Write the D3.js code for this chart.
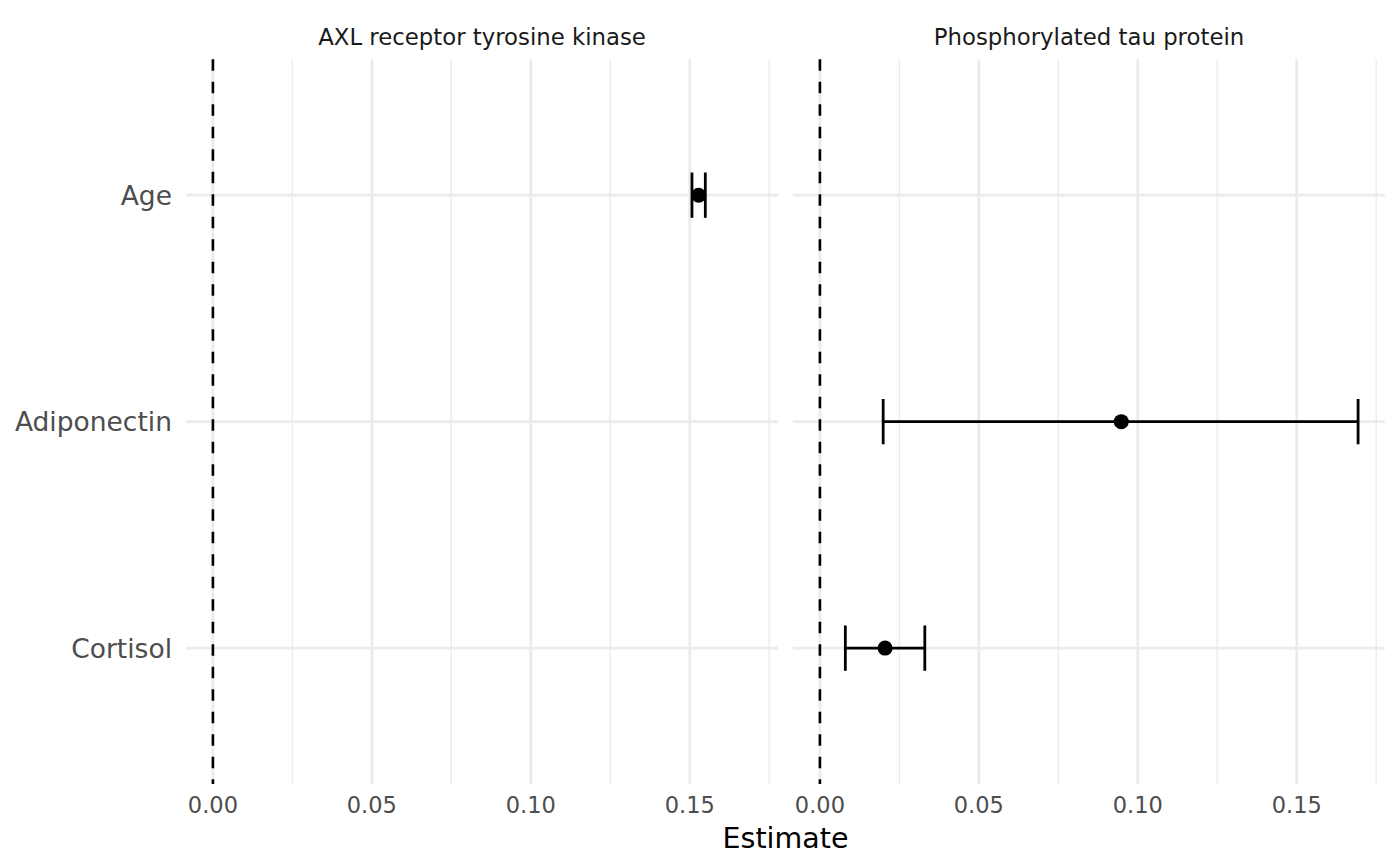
<!DOCTYPE html>
<html>
<head>
<meta charset="utf-8">
<script src="https://cdn.jsdelivr.net/npm/d3@7"></script>
<style>
  body { margin: 0; background: #fff; }
  svg { display: block; font-family: "DejaVu Sans", sans-serif; }
</style>
</head>
<body>
<script>
// facets, terms and estimates
var panels = ["AXL receptor tyrosine kinase", "Phosphorylated tau protein"];
var terms = ["Age", "Adiponectin", "Cortisol"];
var rowPanel = ["AXL receptor tyrosine kinase", "Phosphorylated tau protein", "Phosphorylated tau protein"];
var estimates = [0.1528, 0.0948, 0.0205];
var lower = [0.1507, 0.0199, 0.0080];
var upper = [0.1549, 0.1693, 0.0330];
var xTicks = [0, 0.05, 0.10, 0.15];
var xMinor = [0.025, 0.075, 0.125, 0.175];

var width = 1400, height = 866;
var panelTop = 59.3, panelBottom = 784;
var panelRanges = [[186, 778], [793, 1385]];

var rows = terms.map((t, i) => ({term: t, panel: rowPanel[i], est: estimates[i], lo: lower[i], hi: upper[i]}));

// shared x scale with 5% expansion like ggplot
var ext = d3.extent([0].concat(lower, upper));
var pad = (ext[1] - ext[0]) * 0.05;
var xDomain = [ext[0] - pad, ext[1] + pad];

var y = d3.scalePoint()
    .domain(terms)
    .range([panelTop, panelBottom])
    .padding(0.6);

var svg = d3.select("body").append("svg")
    .attr("width", width)
    .attr("height", height);

panels.forEach((p, pi) => {
  var x = d3.scaleLinear().domain(xDomain).range(panelRanges[pi]);
  var g = svg.append("g");

  // minor grid
  g.selectAll("line.minor")
    .data(xMinor.filter(v => v >= xDomain[0] && v <= xDomain[1]))
    .enter().append("line")
      .attr("x1", d => x(d)).attr("x2", d => x(d))
      .attr("y1", panelTop).attr("y2", panelBottom)
      .attr("stroke", "#ebebeb")
      .attr("stroke-width", 1.4);

  // major grid
  g.selectAll("line.major")
    .data(xTicks)
    .enter().append("line")
      .attr("x1", d => x(d)).attr("x2", d => x(d))
      .attr("y1", panelTop).attr("y2", panelBottom)
      .attr("stroke", "#ebebeb")
      .attr("stroke-width", 2.8);

  g.selectAll("line.hgrid")
    .data(terms)
    .enter().append("line")
      .attr("x1", panelRanges[pi][0]).attr("x2", panelRanges[pi][1])
      .attr("y1", d => y(d)).attr("y2", d => y(d))
      .attr("stroke", "#ebebeb")
      .attr("stroke-width", 2.8);

  // zero reference line
  g.append("line")
    .attr("x1", x(0)).attr("x2", x(0))
    .attr("y1", panelTop).attr("y2", panelBottom)
    .attr("stroke", "#000")
    .attr("stroke-width", 2.6)
    .attr("stroke-dasharray", "11.5,11");

  var d = rows.filter(r => r.panel === p);
  var capH = y.step() * 0.1;

  g.selectAll("line.bar")
    .data(d)
    .enter().append("line")
      .attr("x1", r => x(r.lo)).attr("x2", r => x(r.hi))
      .attr("y1", r => y(r.term)).attr("y2", r => y(r.term))
      .attr("stroke", "#000").attr("stroke-width", 2.8);

  ["lo", "hi"].forEach(k => {
    g.selectAll("line.cap" + k)
      .data(d)
      .enter().append("line")
        .attr("x1", r => x(r[k])).attr("x2", r => x(r[k]))
        .attr("y1", r => y(r.term) - capH).attr("y2", r => y(r.term) + capH)
        .attr("stroke", "#000").attr("stroke-width", 2.8);
  });

  g.selectAll("circle")
    .data(d)
    .enter().append("circle")
      .attr("cx", r => x(r.est))
      .attr("cy", r => y(r.term))
      .attr("r", 7.5)
      .attr("fill", "#000");

  // x tick labels
  g.selectAll("text.tick")
    .data(xTicks)
    .enter().append("text")
      .attr("x", v => x(v))
      .attr("y", 813)
      .attr("text-anchor", "middle")
      .attr("font-size", "22.5px")
      .attr("fill", "#4d4d4d")
      .text(d3.format(".2f"));

  // strip label
  g.append("text")
    .attr("x", (panelRanges[pi][0] + panelRanges[pi][1]) / 2)
    .attr("y", 45)
    .attr("text-anchor", "middle")
    .attr("font-size", "22.8px")
    .attr("fill", "#1a1a1a")
    .text(p);
});

// y axis labels
svg.append("g")
  .selectAll("text")
  .data(terms)
  .enter().append("text")
    .attr("x", 172)
    .attr("y", d => y(d))
    .attr("dy", "0.37em")
    .attr("text-anchor", "end")
    .attr("font-size", "26.5px")
    .attr("fill", "#4d4d4d")
    .text(d => d);

svg.append("text")
  .attr("x", (panelRanges[0][0] + panelRanges[1][1]) / 2)
  .attr("y", 848)
  .attr("text-anchor", "middle")
  .attr("font-size", "28.5px")
  .attr("fill", "#000")
  .text("Estimate");
</script>
</body>
</html>
